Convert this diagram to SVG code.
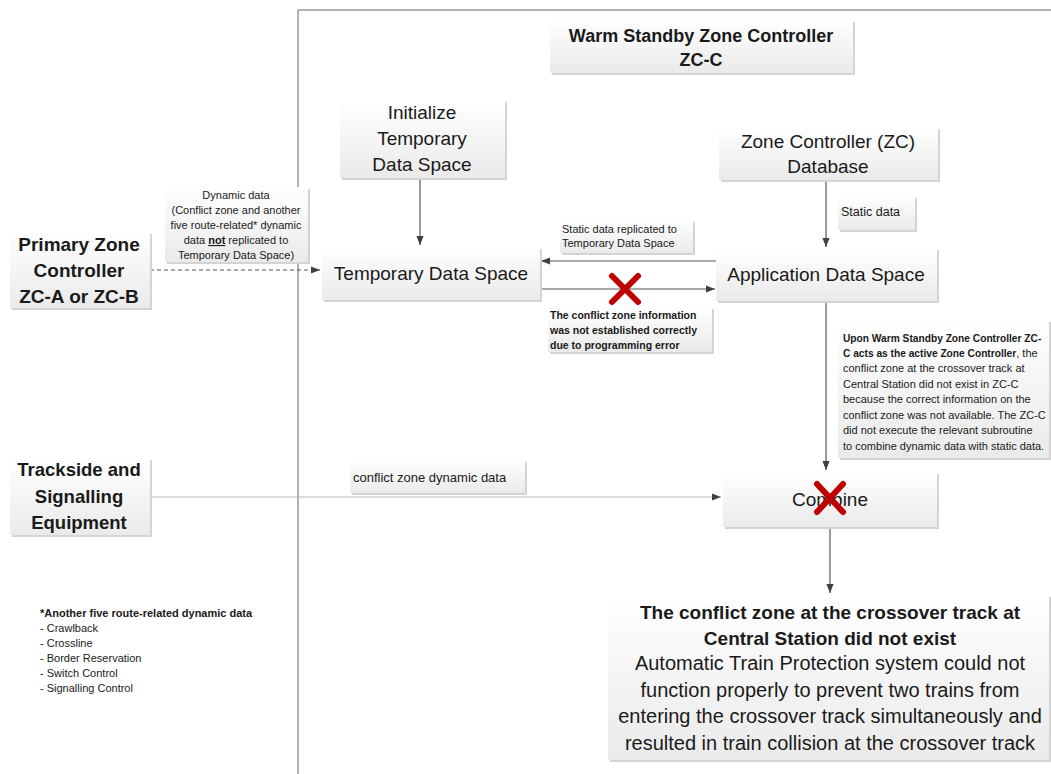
<svg xmlns="http://www.w3.org/2000/svg" width="1051" height="774" viewBox="0 0 1051 774">
<defs>
<linearGradient id="g" x1="0" y1="0" x2="0" y2="1">
<stop offset="0" stop-color="#ffffff"/>
<stop offset="1" stop-color="#eaeaea"/>
</linearGradient>
<marker id="ah" viewBox="0 0 10 10" refX="10" refY="5" markerWidth="9" markerHeight="9" markerUnits="userSpaceOnUse" orient="auto">
<path d="M0,1 L10,5 L0,9 z" fill="#404040"/>
</marker>
</defs>
<style>
text{font-family:"Liberation Sans",Arial,sans-serif;fill:#1a1a1a}
.sh{fill:#d4d4d4}
.bx{fill:url(#g)}
.c{text-anchor:middle}
.b{font-weight:bold}
.l{stroke:#555;stroke-width:1.2;fill:none}
.x{stroke:#c00000;stroke-width:6;stroke-linecap:round}
.f19{font-size:19px}
.s11{font-size:11px}
</style>
<rect width="1051" height="774" fill="#ffffff"/>
<path d="M298,774 V10 H1051" fill="none" stroke="#9a9a9a" stroke-width="1.5"/>

<g id="title">
<rect class="sh" x="552" y="22" width="303" height="53"/>
<rect class="bx" x="550" y="20" width="303" height="53"/>
<text class="c b" x="701" y="42" font-size="18">Warm Standby Zone Controller</text>
<text class="c b" x="701" y="66" font-size="18">ZC-C</text>
</g>

<g id="connectors">
<line class="l" x1="420" y1="178" x2="420" y2="245" marker-end="url(#ah)"/>
<line class="l" x1="826" y1="180" x2="826" y2="247" marker-end="url(#ah)"/>
<line class="l" x1="716" y1="261" x2="541" y2="261" marker-end="url(#ah)"/>
<line class="l" x1="540" y1="289" x2="715" y2="289" marker-end="url(#ah)"/>
<line class="l" x1="150" y1="270" x2="320" y2="270" stroke-dasharray="4,3" marker-end="url(#ah)"/>
<line class="l" x1="826" y1="301" x2="826" y2="470" marker-end="url(#ah)"/>
<line x1="150" y1="497" x2="721" y2="497" stroke="#b8b8b8" stroke-width="1.2" marker-end="url(#ah)"/>
<line class="l" x1="830" y1="527" x2="830" y2="593" marker-end="url(#ah)"/>
</g>

<g id="init">
<rect class="sh" x="342" y="102" width="165" height="78"/>
<rect class="bx" x="340" y="100" width="165" height="78"/>
<text class="c f19" x="422" y="119">Initialize</text>
<text class="c f19" x="422" y="145">Temporary</text>
<text class="c f19" x="422" y="171">Data Space</text>
</g>

<g id="temp">
<rect class="sh" x="324" y="249" width="218" height="53"/>
<rect class="bx" x="322" y="247" width="218" height="53"/>
<text class="c f19" x="431" y="280">Temporary Data Space</text>
</g>

<g id="zcdb">
<rect class="sh" x="721" y="129" width="219" height="53"/>
<rect class="bx" x="719" y="127" width="219" height="53"/>
<text class="c f19" x="828" y="148">Zone Controller (ZC)</text>
<text class="c f19" x="828" y="173">Database</text>
</g>

<g id="staticlabel">
<rect class="sh" x="840" y="198" width="77" height="34"/>
<rect class="bx" x="838" y="196" width="77" height="34"/>
<text x="841" y="216" font-size="12.5">Static data</text>
</g>

<g id="app">
<rect class="sh" x="718" y="250" width="221" height="53"/>
<rect class="bx" x="716" y="248" width="221" height="53"/>
<text class="c f19" x="826" y="281">Application Data Space</text>
</g>

<g id="replicated">
<rect class="sh" x="562" y="222" width="133" height="33"/>
<rect class="bx" x="560" y="220" width="133" height="33"/>
<text class="s11" x="562" y="233">Static data replicated to</text>
<text class="s11" x="562" y="247">Temporary Data Space</text>
</g>

<g id="conflictinfo">
<rect class="sh" x="550" y="309" width="164" height="45"/>
<rect class="bx" x="548" y="307" width="164" height="45"/>
<text class="b" x="550" y="319" font-size="10.5">The conflict zone information</text>
<text class="b" x="550" y="334" font-size="10.5">was not established correctly</text>
<text class="b" x="550" y="349" font-size="10.5">due to programming error</text>
</g>

<g id="x1">
<line class="x" x1="612" y1="276" x2="638" y2="302"/>
<line class="x" x1="638" y1="276" x2="612" y2="302"/>
</g>

<g id="dynamic">
<rect class="sh" x="167" y="189" width="143" height="75"/>
<rect class="bx" x="165" y="187" width="143" height="75"/>
<text class="c s11" x="236" y="199">Dynamic data</text>
<text class="c s11" x="236" y="214">(Conflict zone and another</text>
<text class="c s11" x="236" y="229">five route-related* dynamic</text>
<text class="c s11" x="236" y="244">data <tspan font-weight="bold" text-decoration="underline">not</tspan> replicated to</text>
<text class="c s11" x="236" y="259">Temporary Data Space)</text>
</g>

<g id="primary">
<rect class="sh" x="12" y="234" width="140" height="76"/>
<rect class="bx" x="10" y="232" width="140" height="76"/>
<text class="c b f19" x="79" y="251">Primary Zone</text>
<text class="c b f19" x="79" y="277">Controller</text>
<text class="c b f19" x="79" y="303">ZC-A or ZC-B</text>
</g>

<g id="trackside">
<rect class="sh" x="12" y="460" width="140" height="77"/>
<rect class="bx" x="10" y="458" width="140" height="77"/>
<text class="c b" x="79" y="476" font-size="18.5">Trackside and</text>
<text class="c b" x="79" y="503" font-size="18.5">Signalling</text>
<text class="c b" x="79" y="529" font-size="18.5">Equipment</text>
</g>

<g id="czdd">
<rect class="sh" x="352" y="462" width="175" height="33"/>
<rect class="bx" x="350" y="460" width="175" height="33"/>
<text x="353" y="482" font-size="13">conflict zone dynamic data</text>
</g>

<g id="combine">
<rect class="sh" x="725" y="474" width="214" height="55"/>
<rect class="bx" x="723" y="472" width="214" height="55"/>
<text class="c f19" x="830" y="506">Combine</text>
<line class="x" x1="817" y1="484" x2="843" y2="512"/>
<line class="x" x1="843" y1="484" x2="817" y2="512"/>
</g>

<g id="desc">
<rect class="sh" x="840" y="322" width="211" height="138"/>
<rect class="bx" x="838" y="320" width="211" height="138"/>
<text class="b" x="843" y="342" font-size="10.2">Upon Warm Standby Zone Controller ZC-</text>
<text class="s11" x="843" y="357"><tspan font-weight="bold" font-size="10.2">C acts as the active Zone Controller</tspan>, the</text>
<text class="s11" x="843" y="372">conflict zone at the crossover track at</text>
<text class="s11" x="843" y="388">Central Station did not exist in ZC-C</text>
<text class="s11" x="843" y="403">because the correct information on the</text>
<text class="s11" x="843" y="419">conflict zone was not available. The ZC-C</text>
<text class="s11" x="843" y="434">did not execute the relevant subroutine</text>
<text class="s11" x="843" y="450">to combine dynamic data with static data.</text>
</g>

<g id="result">
<rect class="sh" x="610" y="597" width="441" height="165"/>
<rect class="bx" x="608" y="595" width="441" height="165"/>
<text class="c b" x="830" y="619" font-size="19">The conflict zone at the crossover track at</text>
<text class="c b" x="830" y="645" font-size="19">Central Station did not exist</text>
<text class="c" x="830" y="670" font-size="20">Automatic Train Protection system could not</text>
<text class="c" x="830" y="697" font-size="20">function properly to prevent two trains from</text>
<text class="c" x="830" y="723" font-size="20">entering the crossover track simultaneously and</text>
<text class="c" x="830" y="750" font-size="20">resulted in train collision at the crossover track</text>
</g>

<g id="footnote">
<text class="b" x="40" y="617" font-size="11">*Another five route-related dynamic data</text>
<text x="40" y="632" font-size="11">- Crawlback</text>
<text x="40" y="647" font-size="11">- Crossline</text>
<text x="40" y="662" font-size="11">- Border Reservation</text>
<text x="40" y="677" font-size="11">- Switch Control</text>
<text x="40" y="692" font-size="11">- Signalling Control</text>
</g>
</svg>
